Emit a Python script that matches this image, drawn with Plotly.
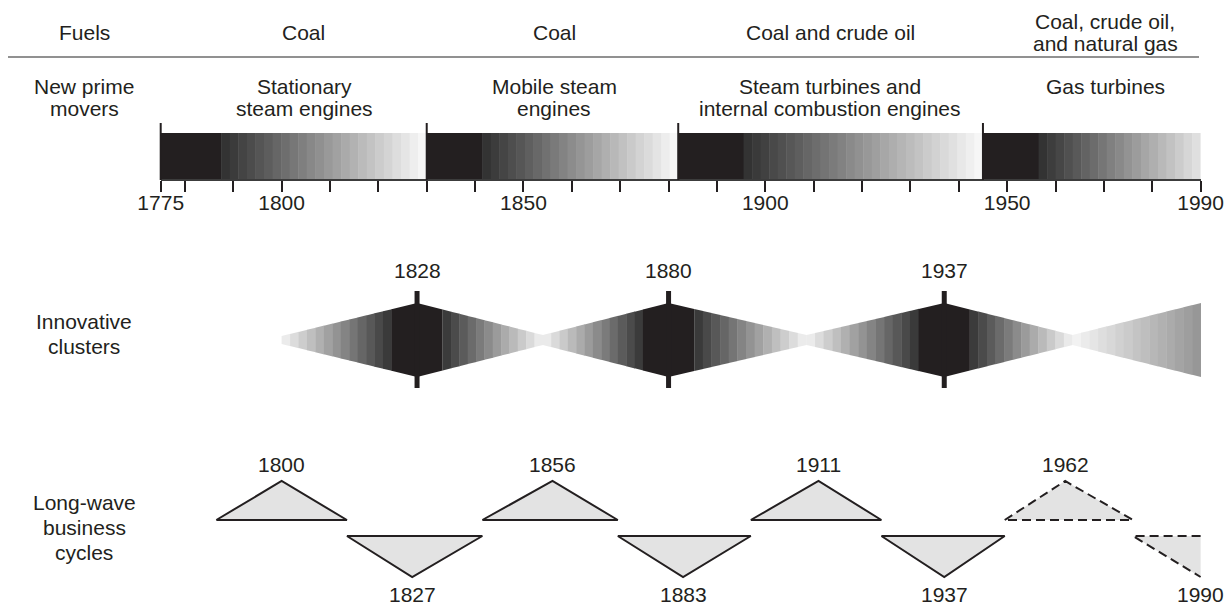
import numpy as np
import plotly.graph_objects as go

# ---------------- data ----------------
fuel_labels = [["Coal"], ["Coal"], ["Coal and crude oil"], ["Coal, crude oil,", "and natural gas"]]
mover_labels = [["Stationary", "steam engines"], ["Mobile steam", "engines"],
                ["Steam turbines and", "internal combustion engines"], ["Gas turbines"]]
row_labels = {"fuels": ["Fuels"], "movers": ["New prime", "movers"],
              "clusters": ["Innovative", "clusters"], "waves": ["Long-wave", "business", "cycles"]}

prime_start = [1775, 1830, 1882, 1945]
prime_dark_end = [1787.5, 1841.5, 1895.5, 1956.5]
prime_end = [1830, 1882, 1945, 1990]
prime_end_gray = [0.965, 0.965, 0.965, 0.875]

axis_ticks = [1775] + list(range(1780, 1991, 10))
axis_labelled = [1775, 1800, 1850, 1900, 1950, 1990]

cluster_years = [1828, 1880, 1937]
cluster_first = 1800
cluster_last = 1990

wave_years = [1800, 1827, 1856, 1883, 1911, 1937, 1962, 1990]
wave_kind = ["peak", "trough", "peak", "trough", "peak", "trough", "peak", "trough"]
wave_forecast = [False, False, False, False, False, False, True, True]

# ---------------- layout constants ----------------
W, H = 1232, 606
PX_1775, PX_1990 = 160.7, 1200.6
PPY = (PX_1990 - PX_1775) / (1990 - 1775)
X0 = 1775 - PX_1775 / PPY
X1 = X0 + W / PPY


def yr(px):
    return X0 + px / PPY


BLACK = "#231f20"
FONT = "Liberation Sans, Arial, Helvetica, sans-serif"
FS = 21
LINE_H = 22

def gray(g):
    v = int(round(g * 255))
    return f"rgb({v},{v},{v})"

shapes = []
annotations = []

def text_block(x, y_center, lines, line_h=LINE_H):
    n = len(lines)
    for i, t in enumerate(lines):
        yy = y_center + (i - (n - 1) / 2) * line_h
        annotations.append(dict(x=x, y=yy, xref="x", yref="y", text=t, showarrow=False,
                                xanchor="center", yanchor="middle",
                                font=dict(family=FONT, size=FS, color=BLACK)))

# ---------- header ----------
FUEL_Y = 32
MOVER_Y = 97
LEFT_X = yr(84)
fuel_x_px = [303, 554, 830, 1105]
mover_x_px = [304, 554, 830, 1105]
text_block(LEFT_X, FUEL_Y, row_labels["fuels"])
text_block(LEFT_X, MOVER_Y, row_labels["movers"])
for lab, px in zip(fuel_labels, fuel_x_px):
    text_block(yr(px), FUEL_Y, lab)
for lab, px in zip(mover_labels, mover_x_px):
    y = MOVER_Y if len(lab) == 2 else MOVER_Y - LINE_H / 2
    text_block(yr(px), y, lab)

shapes.append(dict(type="line", xref="paper", yref="paper", x0=8 / W, x1=1199 / W,
                   y0=1 - 57 / H, y1=1 - 57 / H, line=dict(color="#6d6d6d", width=1.5)))

# ---------- prime mover bar ----------
BAR_T, BAR_B = 133, 180
STEP = 1.75
for s, d, e, ge in zip(prime_start, prime_dark_end, prime_end, prime_end_gray):
    shapes.append(dict(type="rect", xref="x", yref="y", x0=s, x1=d + 0.1, y0=BAR_T, y1=BAR_B,
                       fillcolor=BLACK, line=dict(width=0), layer="below"))
    n = max(1, int(round((e - d) / STEP)))
    w = (e - d) / n
    for i in range(n):
        xa = d + i * w
        xb = min(xa + w + 0.1, e)
        g = 0.2 + (ge - 0.2) * i / (n - 1)
        shapes.append(dict(type="rect", xref="x", yref="y", x0=xa, x1=xb, y0=BAR_T, y1=BAR_B,
                           fillcolor=gray(g), line=dict(width=0), layer="below"))
    shapes.append(dict(type="line", xref="x", yref="y", x0=s, x1=s, y0=123, y1=BAR_B,
                       line=dict(color=BLACK, width=2)))

# ---------- innovative clusters ----------
CY = 340
H_PEAK, H_PINCH, H_TIP = 37, 5, 4
CORE = 5.3
pinches = [(a + b) / 2 for a, b in zip(cluster_years[:-1], cluster_years[1:])]
pinches.append((cluster_years[-1] + cluster_last) / 2)
knot_x = [cluster_first]
knot_h = [H_TIP]
for c, p in zip(cluster_years, pinches):
    knot_x += [c, p]
    knot_h += [H_PEAK, H_PINCH]
knot_x.append(cluster_last)
knot_h.append(H_PEAK)

def env(x):
    return float(np.interp(x, knot_x, knot_h))

def band_poly(xa, xb, color):
    path = (f"M{xa},{CY - env(xa)} L{xb},{CY - env(xb)} L{xb},{CY + env(xb)} "
            f"L{xa},{CY + env(xa)} Z")
    shapes.append(dict(type="path", xref="x", yref="y", path=path, fillcolor=color,
                       line=dict(width=0), layer="below"))

def ramp(a, b, g0, g1):
    n = max(1, int(round((b - a) / STEP)))
    w = (b - a) / n
    for i in range(n):
        xa = a + i * w
        xb = min(xa + w + 0.08, b + 0.08)
        g = g0 + (g1 - g0) * (i + 0.5) / n
        band_poly(xa, xb, gray(g))

prev = cluster_first
g_prev = 0.95
for c, p in zip(cluster_years, pinches):
    ramp(prev, c - CORE, g_prev, 0.2)
    path = (f"M{c - CORE},{CY - env(c - CORE)} L{c},{CY - env(c)} L{c + CORE},{CY - env(c + CORE)} "
            f"L{c + CORE},{CY + env(c + CORE)} L{c},{CY + env(c)} L{c - CORE},{CY + env(c - CORE)} Z")
    shapes.append(dict(type="path", xref="x", yref="y", path=path, fillcolor=BLACK,
                       line=dict(width=0), layer="below"))
    ramp(c + CORE, p, 0.2, 0.95)
    prev = p
    g_prev = 0.95
ramp(prev, cluster_last, 0.96, 0.58)

for c in cluster_years:
    shapes.append(dict(type="line", xref="x", yref="y", x0=c, x1=c, y0=291, y1=388,
                       line=dict(color=BLACK, width=5)))
    text_block(c, 270, [str(c)])
text_block(LEFT_X, 334, row_labels["clusters"], line_h=25)

# ---------- long-wave business cycles ----------
UP_APEX, UP_BASE = 481, 520
DN_TOP, DN_APEX = 536, 577
FILL = "#e3e3e3"
edges = [wave_years[0] - (wave_years[1] - wave_years[0]) / 2]
edges += [(a + b) / 2 for a, b in zip(wave_years[:-1], wave_years[1:])]
traces = []
for i, (yv, kind, fc) in enumerate(zip(wave_years, wave_kind, wave_forecast)):
    a = edges[i]
    b = edges[i + 1] if i + 1 < len(edges) else yv
    dash = "9px,5px" if fc else "solid"
    if kind == "peak":
        xs = [a, yv, b, a]
        ys = [UP_BASE, UP_APEX, UP_BASE, UP_BASE]
        traces.append(go.Scatter(x=xs, y=ys, mode="lines", fill="toself", fillcolor=FILL,
                                 line=dict(color=BLACK, width=2, dash=dash),
                                 hoverinfo="skip", showlegend=False))
        text_block(yv, 464, [str(yv)])
    else:
        if b > yv:
            xs = [a, b, yv, a]
            ys = [DN_TOP, DN_TOP, DN_APEX, DN_TOP]
            traces.append(go.Scatter(x=xs, y=ys, mode="lines", fill="toself", fillcolor=FILL,
                                     line=dict(color=BLACK, width=2, dash=dash),
                                     hoverinfo="skip", showlegend=False))
        else:
            xs = [a, yv, yv, a]
            ys = [DN_TOP, DN_TOP, DN_APEX, DN_TOP]
            traces.append(go.Scatter(x=xs, y=ys, mode="none", fill="toself", fillcolor=FILL,
                                     hoverinfo="skip", showlegend=False))
            traces.append(go.Scatter(x=[yv, a, yv], y=[DN_TOP, DN_TOP, DN_APEX], mode="lines",
                                     line=dict(color=BLACK, width=2, dash=dash),
                                     hoverinfo="skip", showlegend=False))
        text_block(yv, 594, [str(yv)])
text_block(LEFT_X, 527, row_labels["waves"], line_h=25)

fig = go.Figure(traces)
# dummy trace to carry the timeline axis
fig.add_trace(go.Scatter(x=[1775, 1990], y=[-50, -50], xaxis="x2", yaxis="y", mode="markers",
                         marker=dict(opacity=0), hoverinfo="skip", showlegend=False))

fig.update_layout(
    width=W, height=H, autosize=False,
    margin=dict(l=0, r=0, t=0, b=0, pad=0, autoexpand=False),
    paper_bgcolor="white", plot_bgcolor="rgba(0,0,0,0)",
    showlegend=False,
    xaxis=dict(range=[X0, X1], visible=False, domain=[0, 1], automargin=False),
    yaxis=dict(range=[H, 0], visible=False, domain=[0, 1], automargin=False),
    xaxis2=dict(range=[1775, 1990], domain=[PX_1775 / W, PX_1990 / W], anchor="free",
                position=1 - BAR_B / H, showline=True, linecolor="#3c3c3c", linewidth=2,
                ticks="outside", ticklen=11, tickwidth=1.5, tickcolor=BLACK,
                tickvals=axis_ticks, automargin=False, ticklabelstandoff=-7,
                ticktext=[str(t) if t in axis_labelled else "" for t in axis_ticks],
                tickfont=dict(family=FONT, size=FS, color=BLACK),
                showgrid=False, zeroline=False, fixedrange=True),
    shapes=shapes,
    annotations=annotations,
)
fig.write_html("out.html", config={"displayModeBar": False},
               post_script="document.body.style.margin='0';document.body.style.overflow='hidden';")
